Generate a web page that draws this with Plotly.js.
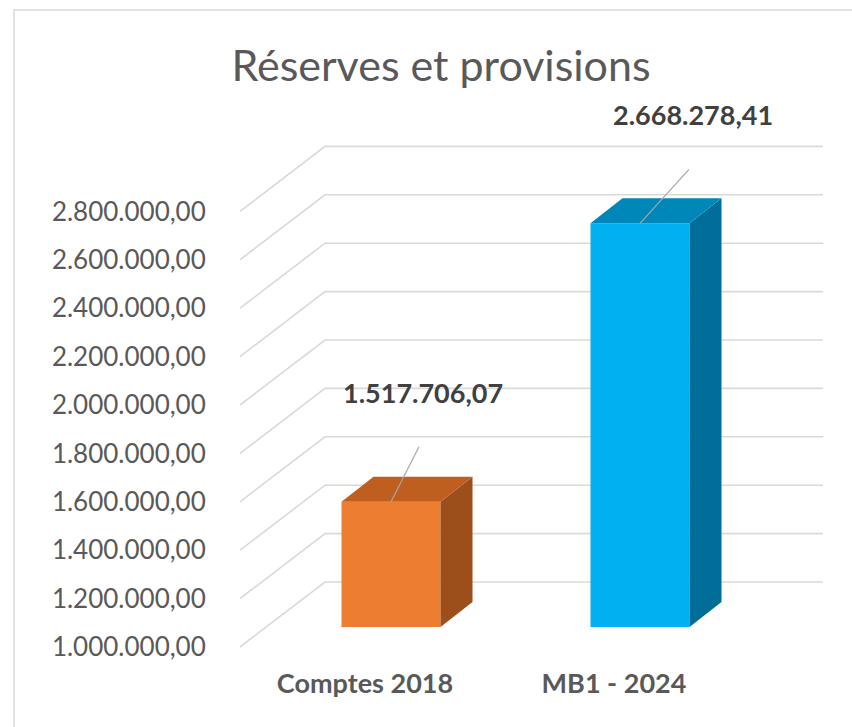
<!DOCTYPE html>
<html>
<head>
<meta charset="utf-8">
<script src="https://cdn.plot.ly/plotly-3.0.1.min.js"></script>
<style>html,body{margin:0;padding:0;background:#fff;}#chart{width:852px;height:727px;}</style>
</head>
<body>
<div id="chart"></div>
<script>
// ---- data ----
const categories = ['Comptes 2018', 'MB1 - 2024'];
const values = [1517706.07, 2668278.41];
const tickValues = [1000000, 1200000, 1400000, 1600000, 1800000, 2000000, 2200000, 2400000, 2600000, 2800000];
const chartTitle = 'Réserves et provisions';

// ---- styles ----
const frontColors = ['#ED7D31', '#00B0F0'];
const topColors = ['#BF5F1F', '#0087BA'];
const sideColors = ['#9C4E1B', '#006E98'];
const gridColor = '#D9D9D9';
const textGray = '#595959';
const labelDark = '#404040';
const FONT = 'Lato, "Open Sans", sans-serif';

// ---- geometry (pixels) ----
const W = 852, H = 727;
const L = 215, R = 832, T = 95, B = 665;
const cat0Px = 365, catStep = 249;       // category centres on the front plane
const floorPx = 647;                      // pixel of the axis minimum on the front plane
const pxPerVal = 242 / 1e6;
const barPlane = {dx: 26, dy: 20};        // bar front face depth shift
const barW = 99;                          // bar face width
const barDepth = {dx: 32, dy: 25};
const wall = {dx: 85, dy: 65};
const gridLeftPx = 240, gridRightPx = 823;
const leader = [{dx: 28, dy: 55}, {dx: 49, dy: 54}];
const labelShift = [{dx: 32, dy: 109}, {dx: 53, dy: 109}];

const floorVal = tickValues[0];
const xr = [(L - cat0Px) / catStep, (R - cat0Px) / catStep];
const yr = [floorVal - (B - floorPx) / pxPerVal, floorVal + (floorPx - T) / pxPerVal];
const dX2 = barPlane.dx / catStep, dY2 = barPlane.dy / pxPerVal;
const xr2 = [xr[0] - dX2, xr[1] - dX2];
const yr2 = [yr[0] - dY2, yr[1] - dY2];

const traces = [];

// gridlines: front-left diagonal to back wall, then horizontal along wall
const gx = [], gy = [];
const xFront = (gridLeftPx - cat0Px) / catStep;
const xWall = (gridLeftPx + wall.dx - cat0Px) / catStep;
const xEnd = (gridRightPx - cat0Px) / catStep;
const wallDv = wall.dy / pxPerVal;
tickValues.forEach(v => {
  gx.push(xFront, xWall, xEnd, null);
  gy.push(v, v + wallDv, v + wallDv, null);
});
traces.push({type: 'scatter', mode: 'lines', x: gx, y: gy, xaxis: 'x', yaxis: 'y',
  line: {color: gridColor, width: 1.6}, hoverinfo: 'skip', showlegend: false});

// bar front faces
const xs = categories.map((c, i) => i);
const bwU = barW / catStep;
traces.push({type: 'bar', x: xs, y: values.map(v => v - floorVal), base: floorVal,
  width: bwU, xaxis: 'x2', yaxis: 'y2',
  marker: {color: frontColors, line: {width: 0}}, showlegend: false, hoverinfo: 'skip'});

// side and top faces
const ddx = barDepth.dx / catStep, ddy = barDepth.dy / pxPerVal;
values.forEach((v, i) => {
  const xl = i - bwU / 2, xrr = i + bwU / 2;
  traces.push({type: 'scatter', mode: 'lines', fill: 'toself', xaxis: 'x2', yaxis: 'y2',
    x: [xrr, xrr, xrr + ddx, xrr + ddx, xrr],
    y: [floorVal, v, v + ddy, floorVal + ddy, floorVal],
    fillcolor: sideColors[i], line: {width: 0, color: sideColors[i]}, hoverinfo: 'skip', showlegend: false});
  traces.push({type: 'scatter', mode: 'lines', fill: 'toself', xaxis: 'x2', yaxis: 'y2',
    x: [xl, xrr, xrr + ddx, xl + ddx, xl],
    y: [v, v, v + ddy, v + ddy, v],
    fillcolor: topColors[i], line: {width: 0, color: topColors[i]}, hoverinfo: 'skip', showlegend: false});
  // leader line
  traces.push({type: 'scatter', mode: 'lines', xaxis: 'x2', yaxis: 'y2',
    x: [i, i + leader[i].dx / catStep], y: [v, v + leader[i].dy / pxPerVal],
    line: {color: '#A6A6A6', width: 1.2}, hoverinfo: 'skip', showlegend: false});
});

function fmt(v) {
  const parts = v.toFixed(2).split('.');
  return parts[0].replace(/\B(?=(\d{3})+(?!\d))/g, '.') + ',' + parts[1];
}

const annotations = values.map((v, i) => ({
  xref: 'x2', yref: 'y2', x: i, y: v, text: fmt(v), showarrow: false,
  xshift: labelShift[i].dx, yshift: labelShift[i].dy, xanchor: 'center', yanchor: 'middle',
  font: {family: FONT, size: 27, color: labelDark, weight: 'bold'}
}));

const pw = R - L, ph = B - T;
const layout = {
  width: W, height: H,
  margin: {l: L, r: W - R, t: T, b: H - B, pad: 0},
  paper_bgcolor: '#ffffff', plot_bgcolor: 'rgba(0,0,0,0)',
  separators: ',.',
  showlegend: false,
  title: {text: chartTitle, xref: 'container', yref: 'container', x: 441 / W, y: 1 - 66 / H,
    xanchor: 'center', yanchor: 'middle', font: {family: FONT, size: 43, color: textGray}},
  xaxis: {range: xr, tickvals: xs, ticktext: categories, showgrid: false, zeroline: false,
    showline: false, ticks: '', fixedrange: true,
    tickfont: {family: FONT, size: 27, color: textGray, weight: 'bold'}},
  yaxis: {range: yr, tickvals: tickValues, tickformat: ',.2f', showgrid: false, zeroline: false,
    showline: false, ticks: 'outside', ticklen: 3, tickcolor: 'rgba(0,0,0,0)', fixedrange: true,
    tickfont: {family: FONT, size: 26, color: textGray}},
  xaxis2: {range: xr2, overlaying: 'x', visible: false, fixedrange: true},
  yaxis2: {range: yr2, overlaying: 'y', visible: false, fixedrange: true},
  shapes: [{type: 'rect', xref: 'paper', yref: 'paper',
    x0: (14 - L) / pw, x1: (W + 10 - L) / pw, y0: (B - (H + 10)) / ph, y1: (B - 10) / ph,
    line: {color: gridColor, width: 1.5}, fillcolor: 'rgba(0,0,0,0)', layer: 'below'}],
  annotations: annotations
};

Plotly.newPlot('chart', traces, layout, {staticPlot: true, displayModeBar: false});
</script>
</body>
</html>
